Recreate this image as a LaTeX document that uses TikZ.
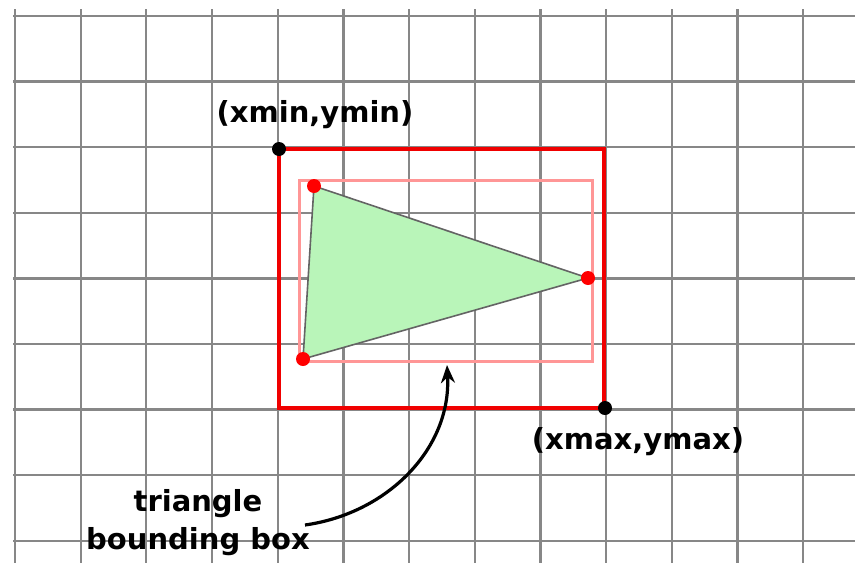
\documentclass[tikz,border=0pt]{standalone}
\usepackage{fontspec}
\setmainfont{DejaVu Sans}
\usepackage{tikz}
\usetikzlibrary{arrows.meta,positioning,calc}
\definecolor{gridgray}{RGB}{135,135,135}
\definecolor{edgegray}{RGB}{100,100,100}
\definecolor{trifill}{RGB}{185,245,185}
\definecolor{boxred}{RGB}{240,0,0}
\definecolor{pinkred}{RGB}{255,150,150}
\newcommand{\lblfont}{\fontsize{29}{38}\selectfont\bfseries}

\begin{document}
\begin{tikzpicture}[
	x=1pt, y=-1pt,
	every node/.style={font=\lblfont, text=black},
	gridline/.style={draw=gridgray, line width=2.3pt},
	outerbox/.style={draw=boxred, line width=4pt},
	innerbox/.style={draw=pinkred, line width=3pt},
	tri/.style={fill=trifill, draw=edgegray, line width=1.6pt},
	corner/.style={circle, fill=black, inner sep=0pt, minimum size=14pt},
	vertex/.style={circle, fill=red, inner sep=0pt, minimum size=14pt},
	arrow/.style={-{Stealth[length=18pt,width=14pt]}, line width=3.2pt}
	]
	
	\useasboundingbox[fill=white] (0,0) rectangle (855,563);
	
	% grid
	\foreach \i in {0,...,12}
		\draw[gridline] (15+65.67*\i,9) -- (15+65.67*\i,563);
	\foreach \j in {0,...,8}
		\draw[gridline] (13,16+65.6*\j) -- (855,16+65.6*\j);
	
	% triangle and its boxes
	\coordinate (A) at (314,186);
	\coordinate (B) at (588,278);
	\coordinate (C) at (303,359);
	\draw[innerbox] (299,180) rectangle (592,361);
	\draw[tri] (A) -- (B) -- (C) -- cycle;
	\draw[outerbox] (279,149) rectangle (604,408);
	
	\node[vertex] (Va) at (A) {};
	\node[vertex] (Vb) at (B) {};
	\node[vertex] (Vc) at (C) {};
	
	\node[corner] (Min) at (279,149) {};
	\node[corner] (Max) at (605,408) {};
	
	\node (MinLabel) at (315,115) {(xmin,ymin)};
	\node (MaxLabel) at (638,442) {(xmax,ymax)};
	\node[align=center] (BoxLabel) at (198,523) {triangle\\bounding box};
	
	\coordinate (tail) at (305,525);
	\coordinate (tip) at (447,365);
	\draw[arrow] (tail) to[out=8, in=-87] (tip);
	
\end{tikzpicture}
\end{document}
